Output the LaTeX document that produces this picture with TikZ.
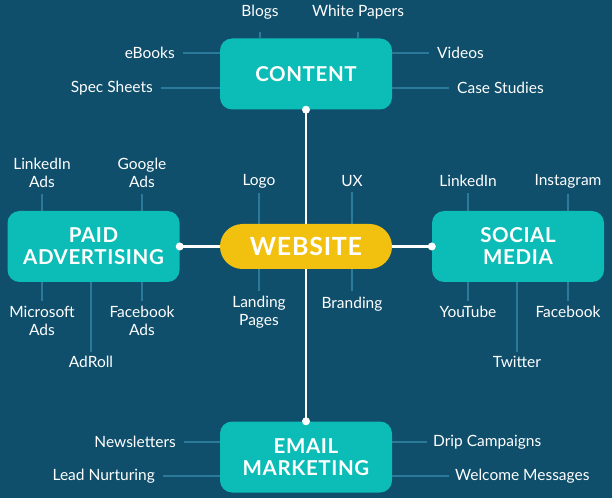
\documentclass[tikz,border=0pt]{standalone}
\usepackage{fontspec}
\setmainfont{Lato}
\newfontfamily\headfont[LetterSpace=3]{Lato}
\usetikzlibrary{backgrounds}
\definecolor{bgblue}{HTML}{0F4F6C}
\definecolor{branchteal}{HTML}{0BBDB6}
\definecolor{hubyellow}{HTML}{F2C00E}
\definecolor{twigblue}{HTML}{2C7A9A}

\begin{document}
\begin{tikzpicture}[x=1pt,y=1pt]
        \tikzset{branch/.style={rounded corners=12pt, fill=branchteal, text=white,
                minimum width=172pt, minimum height=71pt, inner sep=0pt, align=center,
                font=\headfont\bfseries\fontsize{20.5}{22}\selectfont},
            hub/.style={rounded corners=22.5pt, fill=hubyellow, text=white,
                minimum width=172pt, minimum height=45pt, inner sep=0pt,
                font=\headfont\bfseries\fontsize{25}{26}\selectfont},
            leaf/.style={text=white, inner sep=0pt, align=center,
                font=\fontsize{15.5}{18}\selectfont},
            twig/.style={draw=twigblue, line width=2pt},
            link/.style={draw=white, line width=2.5pt},
            knob/.style={circle, fill=white, minimum size=8pt, inner sep=0pt}}
        \useasboundingbox (0,0) rectangle (612,498);

        \node[branch] (content) at (306,424) {CONTENT};
        \node[hub] (website) at (306,251.5) {WEBSITE};
        \node[branch] (paid) at (93.5,251.5) {PAID\\ADVERTISING};
        \node[branch] (social) at (518,251.5) {SOCIAL\\MEDIA};
        \node[branch] (email) at (306,41) {EMAIL\\MARKETING};

        \node[leaf] (blogs) at (260,486) {Blogs};
        \node[leaf] (whitepapers) at (358,486) {White Papers};
        \node[leaf, anchor=east] (ebooks) at (175,445) {eBooks};
        \node[leaf, anchor=east] (specsheets) at (153,410) {Spec Sheets};
        \node[leaf, anchor=west] (videos) at (437,445) {Videos};
        \node[leaf, anchor=west] (casestudies) at (457,410) {Case Studies};

        \node[leaf] (linkedinads) at (42,325) {LinkedIn\\Ads};
        \node[leaf] (googleads) at (142,325) {Google\\Ads};
        \node[leaf] (microsoftads) at (42,177.5) {Microsoft\\Ads};
        \node[leaf] (facebookads) at (142,177.5) {Facebook\\Ads};
        \node[leaf] (adroll) at (91,136) {AdRoll};

        \node[leaf] (logo) at (259,317) {Logo};
        \node[leaf] (ux) at (352,317) {UX};
        \node[leaf] (landing) at (259,185.5) {Landing\\Pages};
        \node[leaf] (branding) at (352,194) {Branding};

        \node[leaf] (linkedin) at (468,317) {LinkedIn};
        \node[leaf] (instagram) at (568,317) {Instagram};
        \node[leaf] (youtube) at (468,186) {YouTube};
        \node[leaf] (facebook) at (568,186) {Facebook};
        \node[leaf] (twitter) at (517,136) {Twitter};

        \node[leaf, anchor=east] (newsletters) at (176,56) {Newsletters};
        \node[leaf, anchor=east] (leadnurturing) at (155,22) {Lead Nurturing};
        \node[leaf, anchor=west] (drip) at (433,56) {Drip Campaigns};
        \node[leaf, anchor=west] (welcome) at (455,22) {Welcome Messages};

        \draw[twig, shorten >=13pt] (content.north -| blogs) -- (blogs);
        \draw[twig, shorten >=13pt] (content.north -| whitepapers) -- (whitepapers);
        \draw[twig, shorten >=8pt] (content.west |- ebooks) -- (ebooks);
        \draw[twig, shorten >=8pt] (content.west |- specsheets) -- (specsheets);
        \draw[twig, shorten >=8pt] (content.east |- videos) -- (videos);
        \draw[twig, shorten >=8pt] (content.east |- casestudies) -- (casestudies);

        \draw[twig, shorten >=6pt] (paid.north -| linkedinads) -- (linkedinads);
        \draw[twig, shorten >=6pt] (paid.north -| googleads) -- (googleads);
        \draw[twig, shorten >=5pt] (paid.south -| microsoftads) -- (microsoftads);
        \draw[twig, shorten >=5pt] (paid.south -| facebookads) -- (facebookads);
        \draw[twig, shorten >=4pt] (paid.south -| adroll) -- (adroll);

        \draw[twig, shorten >=6pt] (social.north -| linkedin) -- (linkedin);
        \draw[twig, shorten >=6pt] (social.north -| instagram) -- (instagram);
        \draw[twig, shorten >=5pt] (social.south -| youtube) -- (youtube);
        \draw[twig, shorten >=5pt] (social.south -| facebook) -- (facebook);
        \draw[twig, shorten >=4pt] (social.south -| twitter) -- (twitter);

        \draw[twig, shorten >=8pt] (email.west |- newsletters) -- (newsletters);
        \draw[twig, shorten >=8pt] (email.west |- leadnurturing) -- (leadnurturing);
        \draw[twig, shorten >=6pt] (email.east |- drip) -- (drip);
        \draw[twig, shorten >=6pt] (email.east |- welcome) -- (welcome);

        \begin{scope}[on background layer]
            \fill[bgblue] (0,0) rectangle (612,498);
            \draw[twig, shorten <=5pt, shorten >=5pt] (logo) -- (landing);
            \draw[twig, shorten <=5pt, shorten >=6pt] (ux) -- (branding);
            \draw[link] (content) -- (email);
            \draw[link] (paid) -- (website);
            \draw[link] (social) -- (website);
        \end{scope}

        \node[knob] (contentknob) at (content.south) {};
        \node[knob] (emailknob) at (email.north) {};
        \node[knob] (paidknob) at (paid.east) {};
        \node[knob] (socialknob) at (social.west) {};
    \end{tikzpicture}
\end{document}
